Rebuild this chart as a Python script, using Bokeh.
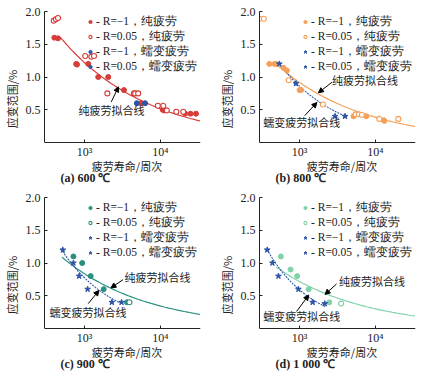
import numpy as np
from bokeh.plotting import figure
from bokeh.layouts import gridplot
from bokeh.models import (Range1d, FixedTicker, CustomJSTickFormatter, PrintfTickFormatter,
                          Legend, LegendItem, Label, Arrow, NormalHead)
from bokeh.embed import file_html
from bokeh.resources import INLINE

# ---------------- data ----------------
# (a) 600 C
a_pure_m1_N = [398, 445, 773, 794, 1117, 1514, 2051, 3311, 5600, 10770, 11200, 21300, 25100, 29650]
a_pure_m1_y = [1.60, 1.59, 1.20, 1.19, 1.20, 1.00, 1.00, 0.80, 0.60, 0.50, 0.49, 0.44, 0.44, 0.44]
a_pure_005_N = [391, 417, 445, 1019, 1225, 1330, 1995, 4490, 4660, 5100, 9290, 10960, 12200, 16300, 20140]
a_pure_005_y = [1.86, 1.88, 1.90, 1.32, 1.31, 1.32, 0.75, 0.75, 0.75, 0.75, 0.56, 0.56, 0.49, 0.47, 0.47]
a_creep_m1_N = [4900]
a_creep_m1_y = [0.60]
a_creep_005_N = [6300]
a_creep_005_y = [0.60]
a_fit_pure = [474, 33700, 1.61, -0.373]   # N start, N end, strain at start, exponent

# (b) 800 C
b_pure_m1_N = [398, 466, 492, 614, 679, 1000, 1047, 5160, 7590, 12940, 13200]
b_pure_m1_y = [1.20, 1.20, 1.20, 1.14, 1.10, 0.80, 0.80, 0.40, 0.40, 0.34, 0.33]
b_pure_005_N = [296, 337, 718, 2030, 5500, 6050, 6650, 11270, 20140]
b_pure_005_y = [1.89, 1.89, 0.95, 0.58, 0.43, 0.43, 0.42, 0.36, 0.36]
b_creep_m1_N = [540, 895, 2938]
b_creep_m1_y = [1.20, 0.90, 0.40]
b_creep_005_N = [3981]
b_creep_005_y = [0.40]
b_fit_pure = [511, 33700, 1.18, -0.376]
b_fit_creep = [525, 4246, 1.22, -0.545]

# (c) 900 C
c_pure_m1_N = [711, 929, 1202, 1786, 3631]
c_pure_m1_y = [1.10, 1.00, 0.80, 0.60, 0.40]
c_pure_005_N = [3908]
c_pure_005_y = [0.40]
c_creep_m1_N = [515, 711, 847, 1096]
c_creep_m1_y = [1.20, 1.00, 0.80, 0.60]
c_creep_005_N = [2291, 3076]
c_creep_005_y = [0.40, 0.40]
c_fit_pure = [501, 33700, 1.09, -0.385]
c_fit_creep = [511, 3076, 1.18, -0.631]

# (d) 1000 C
d_pure_m1_N = [565, 759, 929, 1318, 2466]
d_pure_m1_y = [1.10, 0.90, 0.80, 0.60, 0.40]
d_pure_005_N = [3532]
d_pure_005_y = [0.38]
d_creep_m1_N = [373, 437, 525, 964]
d_creep_m1_y = [1.20, 1.00, 0.80, 0.60]
d_creep_005_N = [1486, 2148]
d_creep_005_y = [0.40, 0.38]
d_fit_pure = [488, 33700, 0.94, -0.377]
d_fit_creep = [387, 2228, 1.17, -0.723]

x_ticks = [1000, 10000]
y_ticks = [0.5, 1.0, 1.5, 2.0]
legend_labels = ["- R=−1，纯疲劳", "- R=0.05，纯疲劳", "- R=−1，蠕变疲劳", "- R=0.05，蠕变疲劳"]
x_label = "疲劳寿命/周次"
y_label = "应变范围/%"
pure_fit_text = "纯疲劳拟合线"
creep_fit_text = "蠕变疲劳拟合线"

BLUE = "#2b53a6"
SERIF = "Liberation Serif"
CJK = "Noto Sans CJK SC"
INK = "#222222"

# layout (pixels)
W, H = 215, 186
LEFT, RIGHT, TOP = 35, 15, 11
AXIS_PX = 131              # height of the 0..2.0 strain axis
BELOW_PX = H - TOP - AXIS_PX   # room under y=0 for tick labels, axis title, caption
Y_MAX = 2.0
PX = Y_MAX / AXIS_PX       # data units per pixel vertically
FRAME_W = W - LEFT - RIGHT


def fit_curve(params):
    n0, n1, y0, b = params
    n = np.logspace(np.log10(n0), np.log10(n1), 80)
    return n, y0 * (n / n0) ** b


def make_panel(title, color, series, fit_pure, fit_creep, star, pure_lab, creep_lab):
    p = figure(width=W, height=H, x_axis_type="log",
               x_range=Range1d(295, 34000), y_range=Range1d(-BELOW_PX * PX, Y_MAX),
               output_backend="svg", toolbar_location=None,
               min_border_left=LEFT, min_border_right=RIGHT, min_border_top=TOP,
               min_border_bottom=0)
    p.outline_line_color = None
    p.grid.visible = False
    p.background_fill_color = "white"

    for ax in (p.xaxis[0], p.yaxis[0]):
        ax.major_tick_in = 3
        ax.major_tick_out = 0
        ax.minor_tick_in = 0
        ax.minor_tick_out = 0
        ax.axis_line_color = INK
        ax.major_tick_line_color = INK
        ax.major_label_text_font = SERIF
        ax.major_label_text_font_size = "12px"
        ax.major_label_text_color = INK
        ax.axis_label_text_font = CJK
        ax.axis_label_text_font_size = "11px"
        ax.axis_label_text_font_style = "normal"
        ax.axis_label_text_color = INK
    p.xaxis.fixed_location = 0
    p.xaxis.ticker = FixedTicker(ticks=x_ticks)
    p.xaxis.formatter = CustomJSTickFormatter(code="""
        const sup = {'0':'⁰','1':'¹','2':'²','3':'³','4':'⁴','5':'⁵','6':'⁶'};
        const e = Math.round(Math.log10(tick));
        return '10' + String(e).split('').map(c => sup[c]).join('');
    """)
    p.xaxis.major_label_standoff = 2
    p.yaxis.ticker = FixedTicker(ticks=y_ticks)
    p.yaxis.formatter = PrintfTickFormatter(format="%.1f")
    p.yaxis.bounds = (0, Y_MAX)
    p.yaxis.axis_label = y_label
    p.yaxis.major_label_standoff = 4
    p.yaxis.axis_label_standoff = 3

    # x-axis title and panel caption, placed under y = 0
    p.add_layout(Label(x=FRAME_W / 2, y=-23 * PX, x_units="screen", text=x_label,
                       text_font=CJK, text_font_size="11px", text_align="center",
                       text_baseline="middle", text_color=INK))
    p.add_layout(Label(x=16, y=-35 * PX, x_units="screen", text=title,
                       text_font=SERIF, text_font_size="12px", text_font_style="bold",
                       text_baseline="middle", text_align="left", text_color=INK))

    # fit lines
    n, y = fit_curve(fit_pure)
    p.line(n, y, line_color=color, line_width=1.2)
    if fit_creep is not None:
        n, y = fit_curve(fit_creep)
        p.line(n, y, line_color=BLUE, line_width=1.1, line_dash="2 1")

    (pm1N, pm1y), (p05N, p05y), (cm1N, cm1y), (c05N, c05y) = series
    r1 = p.scatter(pm1N, pm1y, marker="circle", size=5, fill_color=color, line_color=color)
    r2 = p.scatter(p05N, p05y, marker="circle", size=5, fill_color="white", line_color=color,
                   line_width=1.1)
    mk = "star" if star else "circle"
    sz = 6 if star else 5
    r3 = p.scatter(cm1N, cm1y, marker=mk, size=sz, fill_color=BLUE, line_color=BLUE)
    r4 = p.scatter(c05N, c05y, marker=mk, size=sz, fill_color=BLUE, line_color=BLUE)

    legend = Legend(items=[LegendItem(label=legend_labels[i], renderers=[r])
                           for i, r in enumerate([r1, r2, r3, r4])],
                    location="top_right", margin=3, padding=0, spacing=0,
                    label_height=11, glyph_height=11, glyph_width=8, label_standoff=2,
                    label_text_font=SERIF, label_text_font_size="11.5px",
                    label_text_color=INK,
                    border_line_alpha=0, background_fill_alpha=0)
    p.add_layout(legend)

    # fit-line annotations
    for lab in (pure_lab, creep_lab):
        if lab is None:
            continue
        text, (tx, ty), (ax0, ay0), (ax1, ay1) = lab
        p.add_layout(Label(x=tx, y=ty, text=text, text_font=CJK, text_font_size="11px",
                           text_baseline="middle", text_align="left", text_color=INK))
        p.add_layout(Arrow(x_start=ax0, y_start=ay0, x_end=ax1, y_end=ay1,
                           line_color="black", line_width=1,
                           end=NormalHead(size=5, fill_color="black", line_color="black")))
    return p


pa = make_panel("(a) 600 ℃", "#d63c38",
                [(a_pure_m1_N, a_pure_m1_y), (a_pure_005_N, a_pure_005_y),
                 (a_creep_m1_N, a_creep_m1_y), (a_creep_005_N, a_creep_005_y)],
                a_fit_pure, None, False,
                (pure_fit_text, (832, 0.49), (2249, 0.62), (2805, 0.85)), None)
pb = make_panel("(b) 800 ℃", "#f5a05a",
                [(b_pure_m1_N, b_pure_m1_y), (b_pure_005_N, b_pure_005_y),
                 (b_creep_m1_N, b_creep_m1_y), (b_creep_005_N, b_creep_005_y)],
                b_fit_pure, b_fit_creep, True,
                (pure_fit_text, (2679, 0.96), (2679, 0.92), (1770, 0.76)),
                (creep_fit_text, (331, 0.31), (1169, 0.41), (1690, 0.61)))
pc = make_panel("(c) 900 ℃", "#2a8f80",
                [(c_pure_m1_N, c_pure_m1_y), (c_pure_005_N, c_pure_005_y),
                 (c_creep_m1_N, c_creep_m1_y), (c_creep_005_N, c_creep_005_y)],
                c_fit_pure, c_fit_creep, True,
                (pure_fit_text, (3373, 0.79), (3221, 0.745), (2228, 0.62)),
                (creep_fit_text, (344, 0.25), (1117, 0.38), (1542, 0.58)))
pd = make_panel("(d) 1 000 ℃", "#80d2a8",
                [(d_pure_m1_N, d_pure_m1_y), (d_pure_005_N, d_pure_005_y),
                 (d_creep_m1_N, d_creep_m1_y), (d_creep_005_N, d_creep_005_y)],
                d_fit_pure, d_fit_creep, True,
                (pure_fit_text, (3311, 0.73), (3076, 0.68), (2168, 0.52)),
                (creep_fit_text, (331, 0.19), (912, 0.26), (1318, 0.51)))

grid = gridplot([[pa, pb], [pc, pd]], toolbar_location=None)
open("out.html", "w").write(file_html(grid, INLINE))
